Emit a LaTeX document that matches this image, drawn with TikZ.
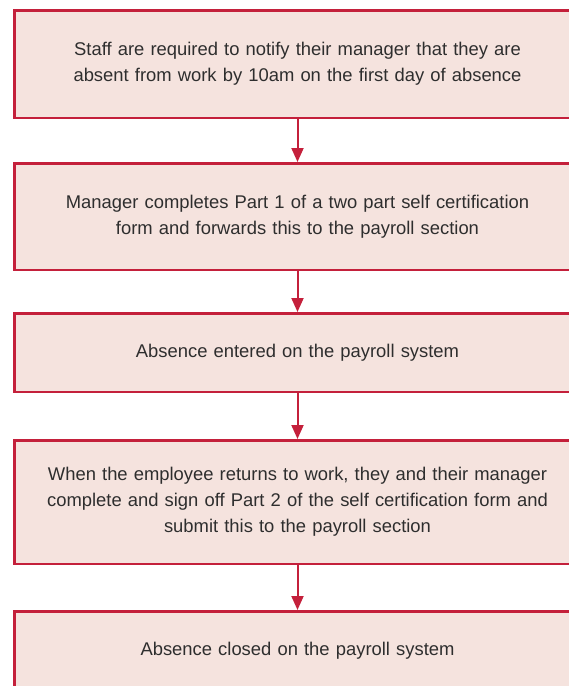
\documentclass[tikz,border=0pt]{standalone}
\usepackage{fontspec}
\setmainfont{Liberation Sans}
\usetikzlibrary{arrows.meta}
\definecolor{boxred}{HTML}{C4203B}
\definecolor{boxfill}{HTML}{F5E3DE}
\definecolor{txt}{HTML}{2E2E2E}
\begin{document}
\begin{tikzpicture}[x=1pt,y=-1pt,
  flowbox/.style={draw=boxred, fill=boxfill, line width=2.5pt, rectangle,
    minimum width=566.5pt, text width=540pt, align=center, text=txt,
    font=\fontsize{18.4}{26}\selectfont, inner sep=0pt},
  flowarrow/.style={draw=boxred, line width=2pt,
    -{Triangle[width=12pt,length=14pt]}}]
  \useasboundingbox (0,0) rectangle (569,686);
  \clip (0,0) rectangle (569,686);
  \node[flowbox, minimum height=107.5pt] (b1) at (297.5,64)
    {Staff are required to notify their manager that they are\\absent from work by 10am on the first day of absence};
  \node[flowbox, minimum height=106.5pt] (b2) at (297.5,216.5)
    {Manager completes Part 1 of a two part self certification\\form and forwards this to the payroll section};
  \node[flowbox, minimum height=78.5pt] (b3) at (297.5,352.5)
    {Absence entered on the payroll system};
  \node[flowbox, minimum height=123.5pt] (b4) at (297.5,502)
    {When the employee returns to work, they and their manager\\complete and sign off Part 2 of the self certification form and\\submit this to the payroll section};
  \node[flowbox, minimum height=78.5pt] (b5) at (297.5,650.5)
    {Absence closed on the payroll system};
  \draw[flowarrow] (b1.south) -- (b2.north);
  \draw[flowarrow] (b2.south) -- (b3.north);
  \draw[flowarrow] (b3.south) -- (b4.north);
  \draw[flowarrow] (b4.south) -- (b5.north);
\end{tikzpicture}
\end{document}
